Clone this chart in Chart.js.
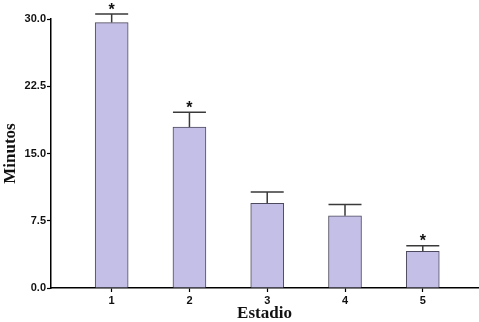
<!DOCTYPE html>
<html>
<head>
<meta charset="utf-8">
<script src="https://cdn.jsdelivr.net/npm/chart.js@4"></script>
<style>
  html, body { margin: 0; padding: 0; background: #fff; }
  #wrap { width: 479px; height: 322px; position: relative; }
</style>
</head>
<body>
<div id="wrap"><canvas id="c"></canvas></div>
<script>
const categories = ['1', '2', '3', '4', '5'];
const values = [29.6, 17.95, 9.45, 8.05, 4.1];
const errors = [0.95, 1.65, 1.25, 1.25, 0.6];
const significance = ['*', '*', '', '', '*'];
const yTicks = [0, 7.5, 15, 22.5, 30];
const xTitle = 'Estadio';
const yTitle = 'Minutos';

const tickFont = { family: 'Liberation Sans, Arial, sans-serif', size: 11, weight: 'bold' };
const titleFont = { family: 'Liberation Serif, Times New Roman, serif', size: 17, weight: 'bold' };

const errorBarPlugin = {
  id: 'errorBars',
  afterDatasetsDraw(chart) {
    const ctx = chart.ctx;
    const meta = chart.getDatasetMeta(0);
    const ys = chart.scales.y;
    ctx.save();
    meta.data.forEach((el, i) => {
      const capY = ys.getPixelForValue(values[i] + errors[i]);
      const half = el.width / 2;
      ctx.strokeStyle = '#3a3a3a';
      ctx.lineWidth = 1.5;
      ctx.beginPath();
      ctx.moveTo(el.x, el.y);
      ctx.lineTo(el.x, capY);
      ctx.moveTo(el.x - half, capY);
      ctx.lineTo(el.x + half, capY);
      ctx.stroke();
      if (significance[i]) {
        ctx.fillStyle = '#111';
        ctx.font = 'bold 16px Liberation Sans, Arial, sans-serif';
        ctx.textAlign = 'center';
        ctx.textBaseline = 'alphabetic';
        ctx.fillText(significance[i], el.x, capY + 0.5);
      }
    });
    ctx.restore();
  }
};

new Chart(document.getElementById('c'), {
  type: 'bar',
  data: {
    datasets: [{
      data: categories.map((c, i) => ({ x: i + 1, y: values[i] })),
      backgroundColor: '#c4bfe6',
      borderColor: '#4d4a5e',
      borderWidth: 1,
      barThickness: 33
    }]
  },
  options: {
    responsive: true,
    maintainAspectRatio: false,
    animation: false,
    layout: { padding: { top: 19, right: 1, left: 0, bottom: 0 } },
    plugins: { legend: { display: false }, tooltip: { enabled: false } },
    scales: {
      x: {
        type: 'linear',
        offset: false,
        min: 0.22,
        max: 5.71,
        afterBuildTicks: s => { s.ticks = categories.map((c, i) => ({ value: i + 1 })); },
        afterFit: s => { s.height = 34; },
        grid: { offset: false, drawOnChartArea: false, tickLength: 4, tickColor: '#000', tickWidth: 1.2 },
        border: { color: '#000', width: 1.5 },
        ticks: { font: tickFont, color: '#111', padding: 2, maxRotation: 0,
                 callback: v => categories[v - 1] },
        title: { display: true, text: xTitle, font: Object.assign({}, titleFont, { lineHeight: 0.95 }), color: '#111', padding: 0 }
      },
      y: {
        min: 0,
        max: 30,
        afterBuildTicks: s => { s.ticks = yTicks.map(v => ({ value: v })); },
        afterFit: s => { s.width = 51; },
        grid: { drawOnChartArea: false, tickLength: 4, tickColor: '#000', tickWidth: 1.2 },
        border: { color: '#000', width: 1.5 },
        ticks: { font: tickFont, color: '#111', padding: 1,
                 callback: v => v.toFixed(1) },
        title: { display: true, text: yTitle, font: titleFont, color: '#111', padding: 0 }
      }
    }
  },
  plugins: [errorBarPlugin]
});
</script>
</body>
</html>
